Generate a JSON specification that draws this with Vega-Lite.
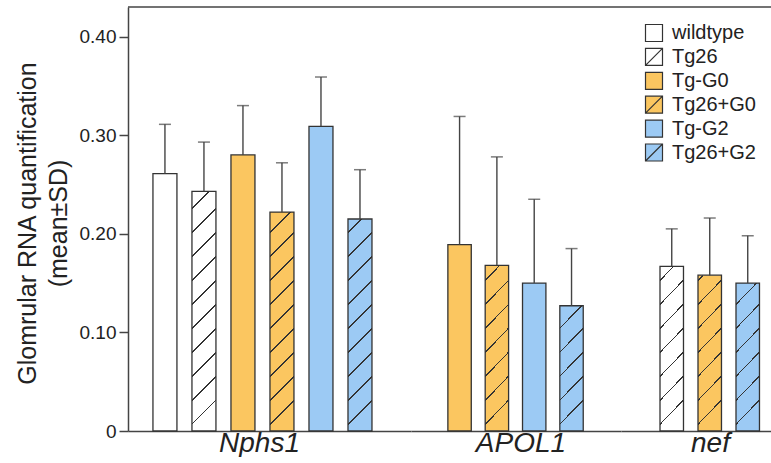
{
  "$schema": "https://vega.github.io/schema/vega-lite/v6.json",
  "padding": {"left": 15, "top": 6, "right": 0, "bottom": 0},
  "spacing": 0,
  "bounds": "flush",
  "datasets": {
    "rna": [
      {"gene": "Nphs1", "genotype": "wildtype", "mean": 0.261, "upper": 0.311},
      {"gene": "Nphs1", "genotype": "Tg26", "mean": 0.243, "upper": 0.293},
      {"gene": "Nphs1", "genotype": "Tg-G0", "mean": 0.280, "upper": 0.330},
      {"gene": "Nphs1", "genotype": "Tg26+G0", "mean": 0.222, "upper": 0.272},
      {"gene": "Nphs1", "genotype": "Tg-G2", "mean": 0.309, "upper": 0.359},
      {"gene": "Nphs1", "genotype": "Tg26+G2", "mean": 0.215, "upper": 0.265},
      {"gene": "APOL1", "genotype": "Tg-G0", "mean": 0.189, "upper": 0.319},
      {"gene": "APOL1", "genotype": "Tg26+G0", "mean": 0.168, "upper": 0.278},
      {"gene": "APOL1", "genotype": "Tg-G2", "mean": 0.150, "upper": 0.235},
      {"gene": "APOL1", "genotype": "Tg26+G2", "mean": 0.127, "upper": 0.185},
      {"gene": "nef", "genotype": "Tg26", "mean": 0.167, "upper": 0.205},
      {"gene": "nef", "genotype": "Tg26+G0", "mean": 0.158, "upper": 0.216},
      {"gene": "nef", "genotype": "Tg26+G2", "mean": 0.150, "upper": 0.198}
    ]
  },
  "hconcat": [
    {
      "width": 283,
      "height": 424,
      "layer": [
        {
          "data": {"name": "rna"},
          "transform": [{"filter": "datum.gene == 'Nphs1'"}],
          "encoding": {
            "x": {"field": "genotype", "type": "nominal",
              "scale": {"domain": ["wildtype", "Tg26", "Tg-G0", "Tg26+G0", "Tg-G2", "Tg26+G2"], "paddingInner": 0.385, "paddingOuter": 0.82, "align": 0.39},
              "axis": {"title": "Nphs1", "labels": false, "ticks": false, "titleFontSize": 28, "titleFontStyle": "italic", "titlePadding": -2, "titleX": 131}}
          },
          "layer": [
            {"mark": {"type": "bar", "strokeWidth": 0},
             "encoding": {
               "y": {"field": "mean", "type": "quantitative", "scale": {"domain": [0, 0.43], "nice": false},
                 "axis": {"values": [0, 0.1, 0.2, 0.3, 0.4], "labelExpr": "datum.value == 0 ? '0' : format(datum.value, '.2f')", "title": ["Glomrular RNA quantification", "(mean±SD)"], "titleFontSize": 25, "titleLineHeight": 31, "titlePadding": 8, "titleY": 216, "labelFontSize": 19, "tickSize": 9, "tickWidth": 1.5, "labelPadding": 3, "grid": false}},
               "fill": {"field": "genotype", "type": "nominal",
                 "scale": {"domain": ["wildtype", "Tg26", "Tg-G0", "Tg26+G0", "Tg-G2", "Tg26+G2"], "range": ["#ffffff", "#ffffff", "#FBC660", "#FBC660", "#9CCAF4", "#9CCAF4"]},
                 "legend": {"title": null, "orient": "none", "legendX": 516, "legendY": 16, "labelFontSize": 20, "labelColor": "#222", "symbolSize": 289, "symbolType": "square", "symbolStrokeColor": "#333", "symbolStrokeWidth": 1.2, "rowPadding": 1.9, "labelOffset": 8, "padding": 0,
                   "encode": {"symbols": {"update": {"shape": {"signal": "indexof(datum.value, 'Tg26') >= 0 ? 'M-1,-1H1V1H-1Z M-1,1L1,-1' : 'square'"}, "stroke": {"value": "#333"}, "strokeWidth": {"value": 1.2}, "opacity": {"value": 1}}}}}}
             }},
            {"transform": [{"filter": "indexof(datum.genotype, 'Tg26') >= 0"}],
             "mark": {"type": "bar", "fill": {"gradient": "linear", "x1": 0, "y1": 0, "x2": 0.0566, "y2": 1, "stops": [
               {"offset": 0, "color": "transparent"},
               {"offset": 0.02, "color": "transparent"}, {"offset": 0.02, "color": "#333"}, {"offset": 0.024, "color": "#333"}, {"offset": 0.024, "color": "transparent"},
               {"offset": 0.0764, "color": "transparent"}, {"offset": 0.0764, "color": "#333"}, {"offset": 0.0804, "color": "#333"}, {"offset": 0.0804, "color": "transparent"},
               {"offset": 0.1328, "color": "transparent"}, {"offset": 0.1328, "color": "#333"}, {"offset": 0.1368, "color": "#333"}, {"offset": 0.1368, "color": "transparent"},
               {"offset": 0.1892, "color": "transparent"}, {"offset": 0.1892, "color": "#333"}, {"offset": 0.1932, "color": "#333"}, {"offset": 0.1932, "color": "transparent"},
               {"offset": 0.2456, "color": "transparent"}, {"offset": 0.2456, "color": "#333"}, {"offset": 0.2496, "color": "#333"}, {"offset": 0.2496, "color": "transparent"},
               {"offset": 0.302, "color": "transparent"}, {"offset": 0.302, "color": "#333"}, {"offset": 0.306, "color": "#333"}, {"offset": 0.306, "color": "transparent"},
               {"offset": 0.3584, "color": "transparent"}, {"offset": 0.3584, "color": "#333"}, {"offset": 0.3624, "color": "#333"}, {"offset": 0.3624, "color": "transparent"},
               {"offset": 0.4148, "color": "transparent"}, {"offset": 0.4148, "color": "#333"}, {"offset": 0.4188, "color": "#333"}, {"offset": 0.4188, "color": "transparent"},
               {"offset": 0.4712, "color": "transparent"}, {"offset": 0.4712, "color": "#333"}, {"offset": 0.4752, "color": "#333"}, {"offset": 0.4752, "color": "transparent"},
               {"offset": 0.5276, "color": "transparent"}, {"offset": 0.5276, "color": "#333"}, {"offset": 0.5316, "color": "#333"}, {"offset": 0.5316, "color": "transparent"},
               {"offset": 0.584, "color": "transparent"}, {"offset": 0.584, "color": "#333"}, {"offset": 0.588, "color": "#333"}, {"offset": 0.588, "color": "transparent"},
               {"offset": 0.6404, "color": "transparent"}, {"offset": 0.6404, "color": "#333"}, {"offset": 0.6444, "color": "#333"}, {"offset": 0.6444, "color": "transparent"},
               {"offset": 0.6968, "color": "transparent"}, {"offset": 0.6968, "color": "#333"}, {"offset": 0.7008, "color": "#333"}, {"offset": 0.7008, "color": "transparent"},
               {"offset": 0.7532, "color": "transparent"}, {"offset": 0.7532, "color": "#333"}, {"offset": 0.7572, "color": "#333"}, {"offset": 0.7572, "color": "transparent"},
               {"offset": 0.8096, "color": "transparent"}, {"offset": 0.8096, "color": "#333"}, {"offset": 0.8136, "color": "#333"}, {"offset": 0.8136, "color": "transparent"},
               {"offset": 0.866, "color": "transparent"}, {"offset": 0.866, "color": "#333"}, {"offset": 0.87, "color": "#333"}, {"offset": 0.87, "color": "transparent"},
               {"offset": 0.9224, "color": "transparent"}, {"offset": 0.9224, "color": "#333"}, {"offset": 0.9264, "color": "#333"}, {"offset": 0.9264, "color": "transparent"},
               {"offset": 0.9788, "color": "transparent"}, {"offset": 0.9788, "color": "#333"}, {"offset": 0.9828, "color": "#333"}, {"offset": 0.9828, "color": "transparent"},
               {"offset": 1, "color": "transparent"}]}},
             "encoding": {"y": {"datum": 0, "type": "quantitative",
                 "axis": {"values": [0, 0.1, 0.2, 0.3, 0.4], "labelExpr": "datum.value == 0 ? '0' : format(datum.value, '.2f')", "title": ["Glomrular RNA quantification", "(mean±SD)"], "titleFontSize": 25, "titleLineHeight": 31, "titlePadding": 8, "titleY": 216, "labelFontSize": 19, "tickSize": 9, "tickWidth": 1.5, "labelPadding": 3, "grid": false}}, "y2": {"datum": 0.43}}},
            {"transform": [{"filter": "indexof(datum.genotype, 'Tg26') >= 0"}],
             "mark": {"type": "bar", "fill": "#ffffff", "width": {"band": 1.15}},
             "encoding": {"y": {"field": "mean", "type": "quantitative",
                 "axis": {"values": [0, 0.1, 0.2, 0.3, 0.4], "labelExpr": "datum.value == 0 ? '0' : format(datum.value, '.2f')", "title": ["Glomrular RNA quantification", "(mean±SD)"], "titleFontSize": 25, "titleLineHeight": 31, "titlePadding": 8, "titleY": 216, "labelFontSize": 19, "tickSize": 9, "tickWidth": 1.5, "labelPadding": 3, "grid": false}}, "y2": {"datum": 0.43}}},
            {"mark": {"type": "bar", "fill": "transparent", "stroke": "#333", "strokeWidth": 1.3},
             "encoding": {"y": {"field": "mean", "type": "quantitative",
                 "axis": {"values": [0, 0.1, 0.2, 0.3, 0.4], "labelExpr": "datum.value == 0 ? '0' : format(datum.value, '.2f')", "title": ["Glomrular RNA quantification", "(mean±SD)"], "titleFontSize": 25, "titleLineHeight": 31, "titlePadding": 8, "titleY": 216, "labelFontSize": 19, "tickSize": 9, "tickWidth": 1.5, "labelPadding": 3, "grid": false}}}},
            {"mark": {"type": "rule", "color": "#444", "strokeWidth": 1.4},
             "encoding": {"y": {"field": "mean", "type": "quantitative",
                 "axis": {"values": [0, 0.1, 0.2, 0.3, 0.4], "labelExpr": "datum.value == 0 ? '0' : format(datum.value, '.2f')", "title": ["Glomrular RNA quantification", "(mean±SD)"], "titleFontSize": 25, "titleLineHeight": 31, "titlePadding": 8, "titleY": 216, "labelFontSize": 19, "tickSize": 9, "tickWidth": 1.5, "labelPadding": 3, "grid": false}}, "y2": {"field": "upper"}}},
            {"mark": {"type": "tick", "orient": "horizontal", "color": "#444", "size": 12, "thickness": 1.5},
             "encoding": {"y": {"field": "upper", "type": "quantitative",
                 "axis": {"values": [0, 0.1, 0.2, 0.3, 0.4], "labelExpr": "datum.value == 0 ? '0' : format(datum.value, '.2f')", "title": ["Glomrular RNA quantification", "(mean±SD)"], "titleFontSize": 25, "titleLineHeight": 31, "titlePadding": 8, "titleY": 216, "labelFontSize": 19, "tickSize": 9, "tickWidth": 1.5, "labelPadding": 3, "grid": false}}}}
          ]
        },
        {"data": {"values": [{}]}, "mark": {"type": "rule", "color": "#444", "strokeWidth": 1.5},
         "encoding": {"y": {"datum": 0.43, "type": "quantitative",
                 "axis": {"values": [0, 0.1, 0.2, 0.3, 0.4], "labelExpr": "datum.value == 0 ? '0' : format(datum.value, '.2f')", "title": ["Glomrular RNA quantification", "(mean±SD)"], "titleFontSize": 25, "titleLineHeight": 31, "titlePadding": 8, "titleY": 216, "labelFontSize": 19, "tickSize": 9, "tickWidth": 1.5, "labelPadding": 3, "grid": false}}}}
      ]
    },
    {
      "width": 210,
      "height": 424,
      "layer": [
        {
          "data": {"name": "rna"},
          "transform": [{"filter": "datum.gene == 'APOL1'"}],
          "encoding": {
            "x": {"field": "genotype", "type": "nominal",
              "scale": {"domain": ["Tg-G0", "Tg26+G0", "Tg-G2", "Tg26+G2"], "paddingInner": 0.373, "paddingOuter": 1.05, "align": 0.494},
              "axis": {"title": "APOL1", "labels": false, "ticks": false, "titleFontSize": 28, "titleFontStyle": "italic", "titlePadding": -2, "titleX": 109.5}}
          },
          "layer": [
            {"mark": {"type": "bar", "strokeWidth": 0},
             "encoding": {
               "y": {"field": "mean", "type": "quantitative", "scale": {"domain": [0, 0.43], "nice": false}, "axis": null},
               "fill": {"field": "genotype", "type": "nominal",
                 "scale": {"domain": ["wildtype", "Tg26", "Tg-G0", "Tg26+G0", "Tg-G2", "Tg26+G2"], "range": ["#ffffff", "#ffffff", "#FBC660", "#FBC660", "#9CCAF4", "#9CCAF4"]},
                 "legend": null}
             }},
            {"transform": [{"filter": "indexof(datum.genotype, 'Tg26') >= 0"}],
             "mark": {"type": "bar", "fill": {"gradient": "linear", "x1": 0, "y1": 0, "x2": 0.0566, "y2": 1, "stops": [
               {"offset": 0, "color": "transparent"},
               {"offset": 0.02, "color": "transparent"}, {"offset": 0.02, "color": "#333"}, {"offset": 0.024, "color": "#333"}, {"offset": 0.024, "color": "transparent"},
               {"offset": 0.0764, "color": "transparent"}, {"offset": 0.0764, "color": "#333"}, {"offset": 0.0804, "color": "#333"}, {"offset": 0.0804, "color": "transparent"},
               {"offset": 0.1328, "color": "transparent"}, {"offset": 0.1328, "color": "#333"}, {"offset": 0.1368, "color": "#333"}, {"offset": 0.1368, "color": "transparent"},
               {"offset": 0.1892, "color": "transparent"}, {"offset": 0.1892, "color": "#333"}, {"offset": 0.1932, "color": "#333"}, {"offset": 0.1932, "color": "transparent"},
               {"offset": 0.2456, "color": "transparent"}, {"offset": 0.2456, "color": "#333"}, {"offset": 0.2496, "color": "#333"}, {"offset": 0.2496, "color": "transparent"},
               {"offset": 0.302, "color": "transparent"}, {"offset": 0.302, "color": "#333"}, {"offset": 0.306, "color": "#333"}, {"offset": 0.306, "color": "transparent"},
               {"offset": 0.3584, "color": "transparent"}, {"offset": 0.3584, "color": "#333"}, {"offset": 0.3624, "color": "#333"}, {"offset": 0.3624, "color": "transparent"},
               {"offset": 0.4148, "color": "transparent"}, {"offset": 0.4148, "color": "#333"}, {"offset": 0.4188, "color": "#333"}, {"offset": 0.4188, "color": "transparent"},
               {"offset": 0.4712, "color": "transparent"}, {"offset": 0.4712, "color": "#333"}, {"offset": 0.4752, "color": "#333"}, {"offset": 0.4752, "color": "transparent"},
               {"offset": 0.5276, "color": "transparent"}, {"offset": 0.5276, "color": "#333"}, {"offset": 0.5316, "color": "#333"}, {"offset": 0.5316, "color": "transparent"},
               {"offset": 0.584, "color": "transparent"}, {"offset": 0.584, "color": "#333"}, {"offset": 0.588, "color": "#333"}, {"offset": 0.588, "color": "transparent"},
               {"offset": 0.6404, "color": "transparent"}, {"offset": 0.6404, "color": "#333"}, {"offset": 0.6444, "color": "#333"}, {"offset": 0.6444, "color": "transparent"},
               {"offset": 0.6968, "color": "transparent"}, {"offset": 0.6968, "color": "#333"}, {"offset": 0.7008, "color": "#333"}, {"offset": 0.7008, "color": "transparent"},
               {"offset": 0.7532, "color": "transparent"}, {"offset": 0.7532, "color": "#333"}, {"offset": 0.7572, "color": "#333"}, {"offset": 0.7572, "color": "transparent"},
               {"offset": 0.8096, "color": "transparent"}, {"offset": 0.8096, "color": "#333"}, {"offset": 0.8136, "color": "#333"}, {"offset": 0.8136, "color": "transparent"},
               {"offset": 0.866, "color": "transparent"}, {"offset": 0.866, "color": "#333"}, {"offset": 0.87, "color": "#333"}, {"offset": 0.87, "color": "transparent"},
               {"offset": 0.9224, "color": "transparent"}, {"offset": 0.9224, "color": "#333"}, {"offset": 0.9264, "color": "#333"}, {"offset": 0.9264, "color": "transparent"},
               {"offset": 0.9788, "color": "transparent"}, {"offset": 0.9788, "color": "#333"}, {"offset": 0.9828, "color": "#333"}, {"offset": 0.9828, "color": "transparent"},
               {"offset": 1, "color": "transparent"}]}},
             "encoding": {"y": {"datum": 0, "type": "quantitative", "axis": null}, "y2": {"datum": 0.43}}},
            {"transform": [{"filter": "indexof(datum.genotype, 'Tg26') >= 0"}],
             "mark": {"type": "bar", "fill": "#ffffff", "width": {"band": 1.15}},
             "encoding": {"y": {"field": "mean", "type": "quantitative", "axis": null}, "y2": {"datum": 0.43}}},
            {"mark": {"type": "bar", "fill": "transparent", "stroke": "#333", "strokeWidth": 1.3},
             "encoding": {"y": {"field": "mean", "type": "quantitative", "axis": null}}},
            {"mark": {"type": "rule", "color": "#444", "strokeWidth": 1.4},
             "encoding": {"y": {"field": "mean", "type": "quantitative", "axis": null}, "y2": {"field": "upper"}}},
            {"mark": {"type": "tick", "orient": "horizontal", "color": "#444", "size": 12, "thickness": 1.5},
             "encoding": {"y": {"field": "upper", "type": "quantitative", "axis": null}}}
          ]
        },
        {"data": {"values": [{}]}, "mark": {"type": "rule", "color": "#444", "strokeWidth": 1.5},
         "encoding": {"y": {"datum": 0.43, "type": "quantitative", "axis": null}}}
      ]
    },
    {
      "width": 151,
      "height": 424,
      "layer": [
        {
          "data": {"name": "rna"},
          "transform": [{"filter": "datum.gene == 'nef'"}],
          "encoding": {
            "x": {"field": "genotype", "type": "nominal",
              "scale": {"domain": ["Tg26", "Tg26+G0", "Tg26+G2"], "paddingInner": 0.382, "paddingOuter": 0.678, "align": 0.757},
              "axis": {"title": "nef", "labels": false, "ticks": false, "titleFontSize": 28, "titleFontStyle": "italic", "titlePadding": -2, "titleX": 89}}
          },
          "layer": [
            {"mark": {"type": "bar", "strokeWidth": 0},
             "encoding": {
               "y": {"field": "mean", "type": "quantitative", "scale": {"domain": [0, 0.43], "nice": false}, "axis": null},
               "fill": {"field": "genotype", "type": "nominal",
                 "scale": {"domain": ["wildtype", "Tg26", "Tg-G0", "Tg26+G0", "Tg-G2", "Tg26+G2"], "range": ["#ffffff", "#ffffff", "#FBC660", "#FBC660", "#9CCAF4", "#9CCAF4"]},
                 "legend": null}
             }},
            {"transform": [{"filter": "indexof(datum.genotype, 'Tg26') >= 0"}],
             "mark": {"type": "bar", "fill": {"gradient": "linear", "x1": 0, "y1": 0, "x2": 0.0566, "y2": 1, "stops": [
               {"offset": 0, "color": "transparent"},
               {"offset": 0.02, "color": "transparent"}, {"offset": 0.02, "color": "#333"}, {"offset": 0.024, "color": "#333"}, {"offset": 0.024, "color": "transparent"},
               {"offset": 0.0764, "color": "transparent"}, {"offset": 0.0764, "color": "#333"}, {"offset": 0.0804, "color": "#333"}, {"offset": 0.0804, "color": "transparent"},
               {"offset": 0.1328, "color": "transparent"}, {"offset": 0.1328, "color": "#333"}, {"offset": 0.1368, "color": "#333"}, {"offset": 0.1368, "color": "transparent"},
               {"offset": 0.1892, "color": "transparent"}, {"offset": 0.1892, "color": "#333"}, {"offset": 0.1932, "color": "#333"}, {"offset": 0.1932, "color": "transparent"},
               {"offset": 0.2456, "color": "transparent"}, {"offset": 0.2456, "color": "#333"}, {"offset": 0.2496, "color": "#333"}, {"offset": 0.2496, "color": "transparent"},
               {"offset": 0.302, "color": "transparent"}, {"offset": 0.302, "color": "#333"}, {"offset": 0.306, "color": "#333"}, {"offset": 0.306, "color": "transparent"},
               {"offset": 0.3584, "color": "transparent"}, {"offset": 0.3584, "color": "#333"}, {"offset": 0.3624, "color": "#333"}, {"offset": 0.3624, "color": "transparent"},
               {"offset": 0.4148, "color": "transparent"}, {"offset": 0.4148, "color": "#333"}, {"offset": 0.4188, "color": "#333"}, {"offset": 0.4188, "color": "transparent"},
               {"offset": 0.4712, "color": "transparent"}, {"offset": 0.4712, "color": "#333"}, {"offset": 0.4752, "color": "#333"}, {"offset": 0.4752, "color": "transparent"},
               {"offset": 0.5276, "color": "transparent"}, {"offset": 0.5276, "color": "#333"}, {"offset": 0.5316, "color": "#333"}, {"offset": 0.5316, "color": "transparent"},
               {"offset": 0.584, "color": "transparent"}, {"offset": 0.584, "color": "#333"}, {"offset": 0.588, "color": "#333"}, {"offset": 0.588, "color": "transparent"},
               {"offset": 0.6404, "color": "transparent"}, {"offset": 0.6404, "color": "#333"}, {"offset": 0.6444, "color": "#333"}, {"offset": 0.6444, "color": "transparent"},
               {"offset": 0.6968, "color": "transparent"}, {"offset": 0.6968, "color": "#333"}, {"offset": 0.7008, "color": "#333"}, {"offset": 0.7008, "color": "transparent"},
               {"offset": 0.7532, "color": "transparent"}, {"offset": 0.7532, "color": "#333"}, {"offset": 0.7572, "color": "#333"}, {"offset": 0.7572, "color": "transparent"},
               {"offset": 0.8096, "color": "transparent"}, {"offset": 0.8096, "color": "#333"}, {"offset": 0.8136, "color": "#333"}, {"offset": 0.8136, "color": "transparent"},
               {"offset": 0.866, "color": "transparent"}, {"offset": 0.866, "color": "#333"}, {"offset": 0.87, "color": "#333"}, {"offset": 0.87, "color": "transparent"},
               {"offset": 0.9224, "color": "transparent"}, {"offset": 0.9224, "color": "#333"}, {"offset": 0.9264, "color": "#333"}, {"offset": 0.9264, "color": "transparent"},
               {"offset": 0.9788, "color": "transparent"}, {"offset": 0.9788, "color": "#333"}, {"offset": 0.9828, "color": "#333"}, {"offset": 0.9828, "color": "transparent"},
               {"offset": 1, "color": "transparent"}]}},
             "encoding": {"y": {"datum": 0, "type": "quantitative", "axis": null}, "y2": {"datum": 0.43}}},
            {"transform": [{"filter": "indexof(datum.genotype, 'Tg26') >= 0"}],
             "mark": {"type": "bar", "fill": "#ffffff", "width": {"band": 1.15}},
             "encoding": {"y": {"field": "mean", "type": "quantitative", "axis": null}, "y2": {"datum": 0.43}}},
            {"mark": {"type": "bar", "fill": "transparent", "stroke": "#333", "strokeWidth": 1.3},
             "encoding": {"y": {"field": "mean", "type": "quantitative", "axis": null}}},
            {"mark": {"type": "rule", "color": "#444", "strokeWidth": 1.4},
             "encoding": {"y": {"field": "mean", "type": "quantitative", "axis": null}, "y2": {"field": "upper"}}},
            {"mark": {"type": "tick", "orient": "horizontal", "color": "#444", "size": 12, "thickness": 1.5},
             "encoding": {"y": {"field": "upper", "type": "quantitative", "axis": null}}}
          ]
        },
        {"data": {"values": [{}]}, "mark": {"type": "rule", "color": "#444", "strokeWidth": 1.5},
         "encoding": {"y": {"datum": 0.43, "type": "quantitative", "axis": null}}}
      ]
    }
  ],
  "config": {
    "font": "Liberation Sans",
    "view": {"stroke": null},
    "axis": {"domainColor": "#444", "domainWidth": 1.5, "tickColor": "#444", "labelColor": "#222", "titleColor": "#222", "titleFontWeight": "normal", "grid": false}
  }
}
